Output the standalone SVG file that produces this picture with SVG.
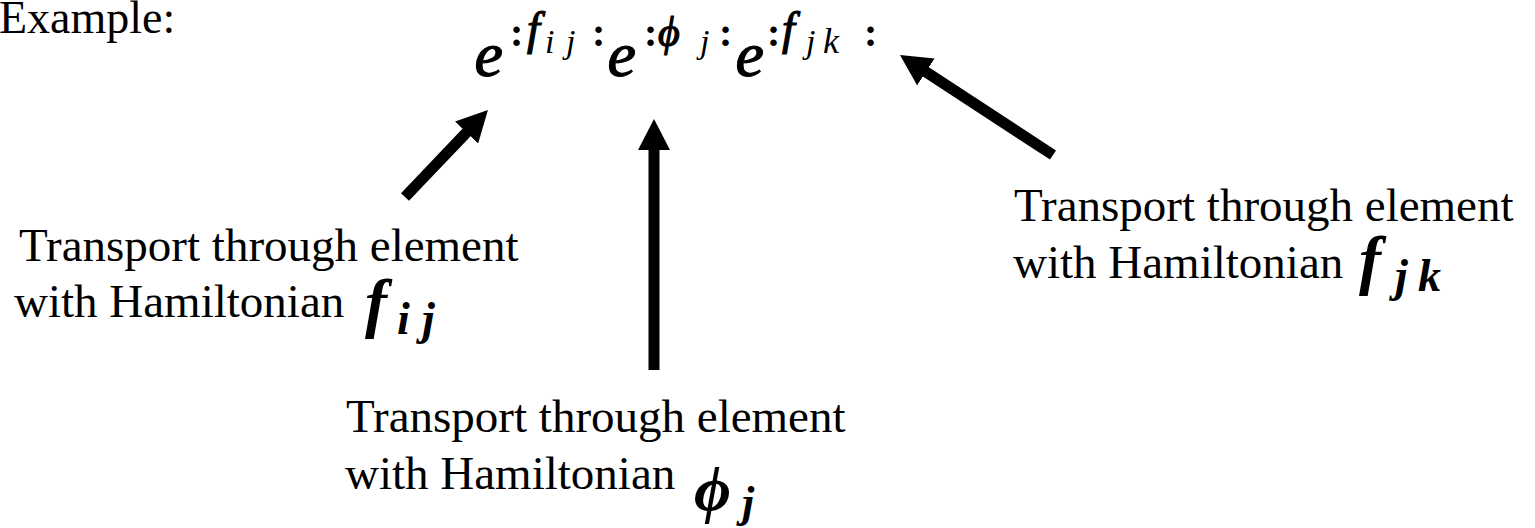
<svg xmlns="http://www.w3.org/2000/svg" width="1535" height="528" viewBox="0 0 1535 528">
<defs>
<style>
.t{font-family:"Liberation Serif","Times New Roman",serif;font-size:47px;fill:#000}
.m{font-family:"Liberation Serif","Times New Roman",serif;font-style:italic;fill:#000}
.e{stroke:#000;stroke-width:1.2}
.mb{font-family:"Liberation Serif","Times New Roman",serif;font-style:italic;font-weight:bold;fill:#000}
.up{font-family:"Liberation Serif","Times New Roman",serif;font-style:normal;font-weight:bold;fill:#000}
.c{stroke:#000;stroke-width:11;fill:none;marker-end:url(#ah)}
</style>
<marker id="ah" markerUnits="userSpaceOnUse" markerWidth="31" markerHeight="32" viewBox="0 0 31 32" refX="6" refY="16" orient="auto"><path d="M0,0 L31,16 L0,32 z" fill="#000"/></marker>
</defs>
<rect width="1535" height="528" fill="#fff"/>
<g id="title"><text class="t" x="-1" y="33" style="font-size:46px">Example:</text></g>
<g id="expr">
<text class="m e" font-size="64" x="474.5" y="76">e</text>
<text class="up" font-size="40" x="510" y="46">:</text>
<text class="m e" font-size="46" x="527" y="44">f</text>
<text class="m" font-size="34" x="545" y="53">i</text>
<text class="m" font-size="34" x="566" y="53">j</text>
<text class="up" font-size="40" x="592" y="46">:</text>
<text class="m e" font-size="64" x="607.5" y="76">e</text>
<text class="up" font-size="40" x="644" y="46">:</text>
<text class="m e" font-size="42" x="658" y="46">ϕ</text>
<text class="m" font-size="34" x="700" y="53">j</text>
<text class="up" font-size="40" x="719" y="46">:</text>
<text class="m e" font-size="64" x="735.5" y="76">e</text>
<text class="up" font-size="40" x="767" y="46">:</text>
<text class="m e" font-size="46" x="782" y="44">f</text>
<text class="m" font-size="34" x="806" y="53">j</text>
<text class="m" font-size="36" x="823" y="53">k</text>
<text class="up" font-size="40" x="864" y="46">:</text>
</g>
<g id="label-fij">
<text class="t" x="19" y="261">Transport through element</text>
<text class="t" x="14" y="317">with Hamiltonian</text>
<text class="mb" font-size="66" x="365" y="325">f</text>
<text class="mb" font-size="46" x="397" y="334">i</text>
<text class="mb" font-size="46" x="422" y="334">j</text>
</g>
<g id="label-phij">
<text class="t" x="346" y="432">Transport through element</text>
<text class="t" x="345" y="489">with Hamiltonian</text>
<text class="mb" font-size="64" x="694" y="510">ϕ</text>
<text class="mb" font-size="44" x="742" y="517">j</text>
</g>
<g id="label-fjk">
<text class="t" x="1014" y="221">Transport through element</text>
<text class="t" x="1013" y="278">with Hamiltonian</text>
<text class="mb" font-size="66" x="1359" y="282">f</text>
<text class="mb" font-size="46" x="1395" y="291">j</text>
<text class="mb" font-size="46" x="1418" y="291">k</text>
</g>
<g id="connectors">
<line class="c" x1="405" y1="197" x2="470.7" y2="128.1"/>
<line class="c" x1="654" y1="370" x2="654" y2="144"/>
<line class="c" x1="1053" y1="155" x2="920.9" y2="68.7"/>
</g>
</svg>
